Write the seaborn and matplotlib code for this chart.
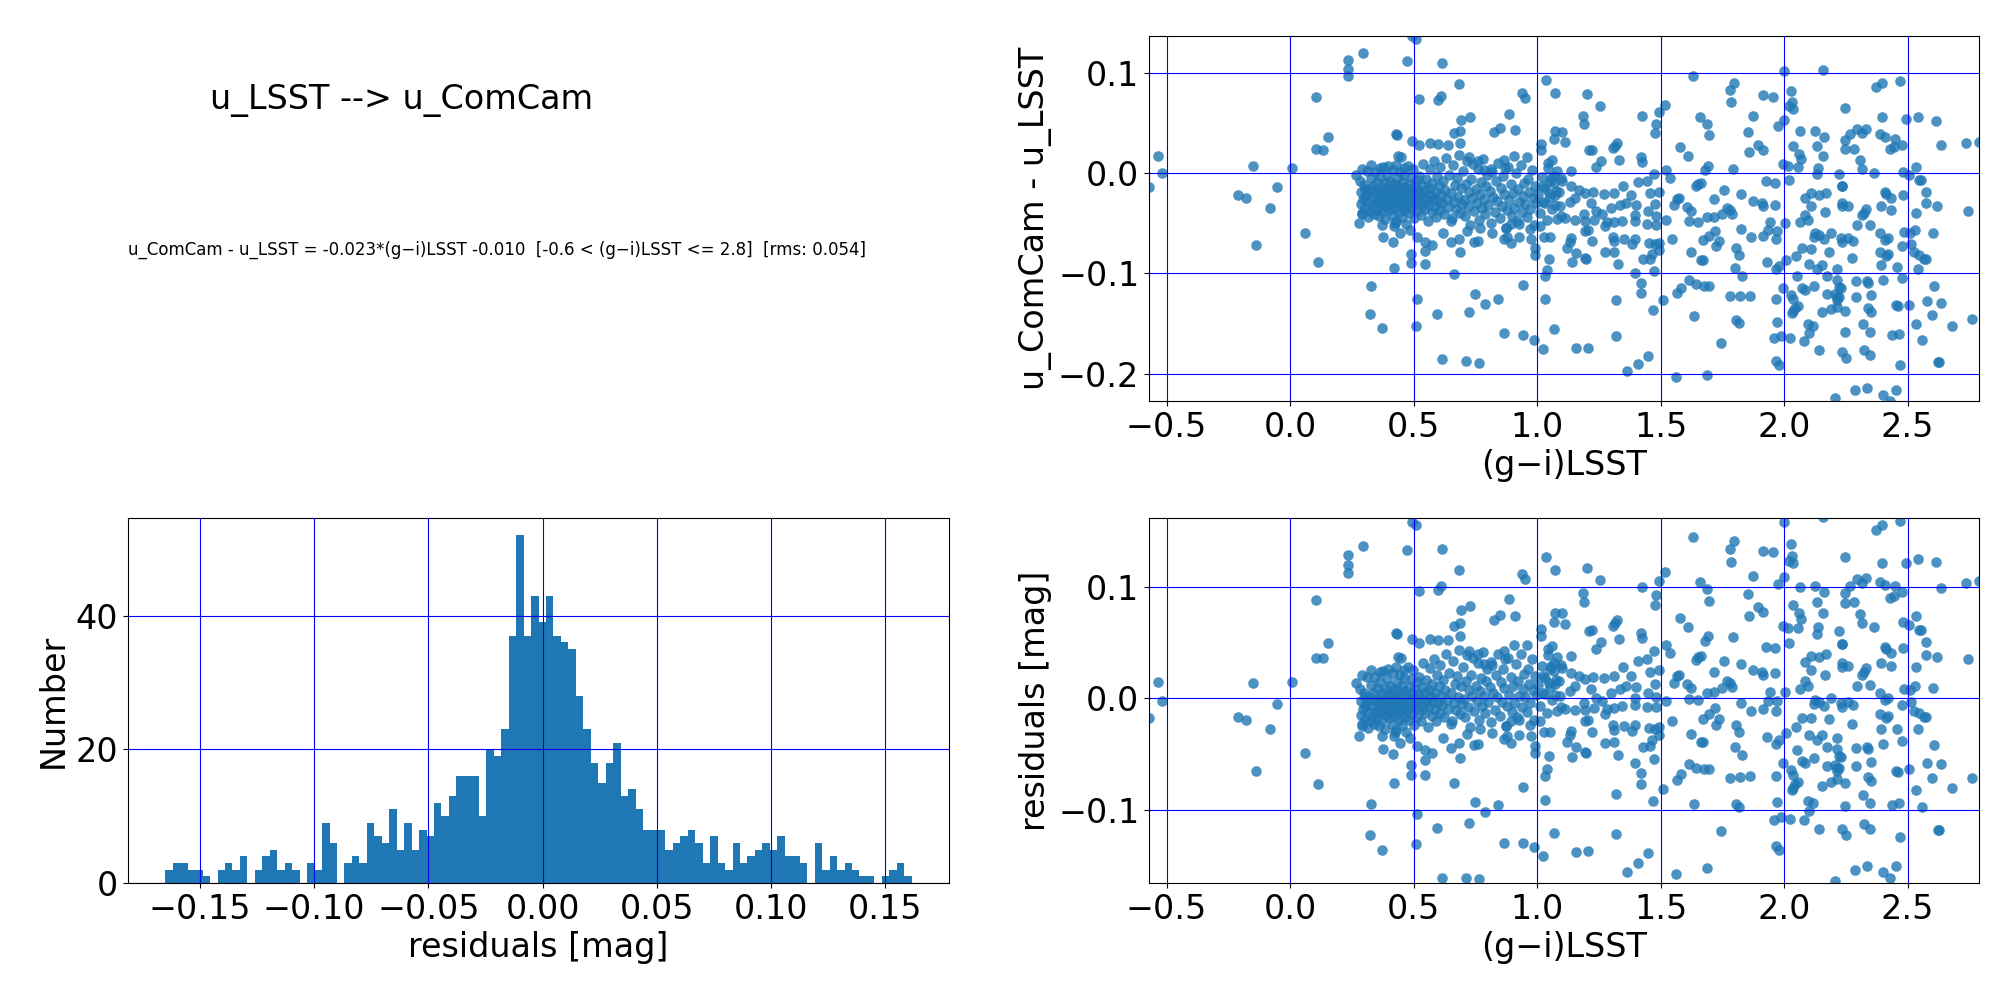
import numpy as np
import pandas as pd
import matplotlib
matplotlib.use("Agg")
import matplotlib.pyplot as plt
from matplotlib.ticker import MultipleLocator
import seaborn as sns

# ---------------- data ----------------
title_text = "u_LSST --> u_ComCam"
fit_text = ("u_ComCam - u_LSST = -0.023*(g\u2212i)LSST -0.010  "
            "[-0.6 < (g\u2212i)LSST <= 2.8]  [rms: 0.054]")
fit_slope = -0.023
fit_icpt = -0.010

# residual histogram: 100 bins between these limits
resid_range = [-0.1652, 0.1616]
resid_counts = [2, 3, 3, 2, 2, 1, 0, 2, 3, 2,
                4, 0, 2, 4, 5, 2, 3, 2, 0, 3,
                2, 9, 6, 0, 3, 4, 3, 9, 7, 6,
                11, 5, 9, 5, 8, 7, 12, 10, 13, 16,
                16, 16, 10, 20, 19, 23, 37, 52, 37, 43,
                39, 43, 37, 36, 35, 28, 23, 18, 15, 18,
                21, 13, 14, 11, 8, 8, 8, 5, 6, 7,
                8, 6, 3, 7, 3, 2, 6, 3, 4, 5,
                6, 5, 7, 4, 4, 3, 0, 6, 2, 4,
                2, 3, 2, 1, 1, 0, 1, 2, 3, 1]

# blue points, left part (g-i < 0.55)
left_gi = [-0.571, -0.533, -0.519, -0.148, -0.209, -0.179, -0.053, -0.082, -0.138, 0.008,
           0.061, 0.115, 0.107, 0.133, 0.152, 0.107, 0.234, 0.236, 0.236, 0.295,
           0.475, 0.492, 0.508, 0.520, 0.429, 0.431, 0.439, 0.451, 0.492, 0.520,
           0.266, 0.291, 0.329, 0.363, 0.398, 0.430, 0.463, 0.303, 0.302, 0.290,
           0.279, 0.373, 0.378, 0.417, 0.444, 0.422, 0.488, 0.488, 0.512, 0.422,
           0.329, 0.325, 0.373, 0.514, 0.508, 0.545, 0.545, 0.545, 0.486, 0.426]
left_du = [-0.014, 0.017, 0.000, 0.007, -0.022, -0.025, -0.014, -0.035, -0.072, 0.005,
           -0.060, -0.089, 0.024, 0.023, 0.036, 0.076, 0.113, 0.104, 0.097, 0.120,
           0.112, 0.1365, 0.134, 0.074, 0.039, 0.038, 0.017, 0.016, 0.032, 0.028,
           -0.002, 0.004, 0.008, 0.005, 0.007, 0.008, 0.005, -0.016, -0.024, -0.041,
           -0.050, -0.052, -0.064, -0.069, -0.060, -0.053, -0.081, -0.090, -0.064, -0.095,
           -0.112, -0.140, -0.154, -0.125, -0.152, -0.069, -0.078, -0.091, -0.057, -0.050]

# blue points, 0.55 < g-i < 1.0 (outside the dense core)
mid_gi = [0.616, 0.599, 0.612, 0.685, 0.694, 0.727, 0.665, 0.689, 0.689, 0.826,
          0.851, 0.888, 0.909, 0.937, 0.950, 0.565, 0.598, 0.638, 0.723, 0.759,
          0.868, 0.906, 0.961, 0.872, 0.814, 0.785,
          0.663, 0.748, 0.789, 0.842, 0.726, 0.594, 0.616, 0.711, 0.763, 0.868,
          0.941, 0.942, 0.986,
          0.690, 0.573, 0.653, 0.683, 0.744, 0.762, 0.818, 0.868, 0.879, 0.895,
          0.927, 0.975, 0.992, 0.993, 0.620, 0.650, 0.716, 0.767, 0.875, 0.893,
          0.928, 0.970]
mid_du = [0.110, 0.073, 0.077, 0.089, 0.053, 0.056, 0.040, 0.042, 0.030, 0.041,
          0.045, 0.059, 0.043, 0.080, 0.075, 0.030, 0.029, 0.028, 0.016, 0.012,
          0.013, 0.017, 0.016, 0.005, 0.004, 0.003,
          -0.101, -0.120, -0.130, -0.125, -0.138, -0.140, -0.185, -0.187, -0.189, -0.159,
          -0.111, -0.161, -0.166,
          -0.079, -0.072, -0.069, -0.066, -0.069, -0.068, -0.060, -0.066, -0.064, -0.070,
          -0.064, -0.066, -0.082, -0.075, -0.060, -0.048, -0.058, -0.055, -0.055, -0.051,
          -0.051, -0.056]

# blue points, 1.0 < g-i < 1.7
right_gi = [1.036, 1.073, 1.202, 1.255, 1.187, 1.188, 1.072, 1.102, 1.114, 1.069,
            1.017, 1.014, 1.045, 1.062, 1.136, 1.209, 1.223, 1.260, 1.238, 1.306,
            1.314, 1.322, 1.331, 1.424, 1.481, 1.477, 1.492, 1.517, 1.419, 1.426,
            1.474, 1.522, 1.537, 1.632, 1.661, 1.689, 1.698, 1.577, 1.610, 1.678,
            1.691, 1.645, 1.653, 1.567, 1.574, 1.555, 1.607, 1.625, 1.617, 1.653,
            1.686, 1.694, 1.672, 1.624, 1.664, 1.545, 1.522, 1.479, 1.493,
            1.494, 1.479, 1.455, 1.494, 1.466, 1.459, 1.430, 1.475, 1.395, 1.421,
            1.419, 1.508, 1.471, 1.566, 1.583, 1.613, 1.645, 1.675, 1.694, 1.635,
            1.450, 1.409, 1.364, 1.562, 1.689, 1.318, 1.318, 1.157, 1.207, 1.070,
            1.025, 1.032, 1.032, 1.041, 1.047, 1.140, 1.136, 1.134, 1.123, 1.157,
            1.196, 1.198, 1.223, 1.275, 1.312, 1.326, 1.306, 1.311, 1.350, 1.383,
            1.398, 1.028, 1.051, 1.010,
            1.070, 1.095, 1.136, 1.168, 1.196, 1.227, 1.269, 1.313, 1.347, 1.379,
            1.409, 1.444, 1.457, 1.072, 1.092, 1.134, 1.154, 1.191, 1.220, 1.237,
            1.262, 1.299, 1.337, 1.358, 1.399, 1.448, 1.481, 1.079, 1.113, 1.154,
            1.196, 1.230, 1.285, 1.313, 1.342, 1.398, 1.395, 1.444, 1.482, 1.196,
            1.207, 1.273, 1.022, 1.051, 1.058, 1.099, 1.034, 1.047, 1.077]
right_du = [0.093, 0.080, 0.079, 0.067, 0.057, 0.049, 0.042, 0.041, 0.031, 0.034,
            0.029, 0.023, 0.010, 0.013, 0.002, 0.023, 0.023, 0.012, 0.006, 0.025,
            0.027, 0.030, 0.013, 0.057, 0.049, 0.040, 0.061, 0.068, 0.016, 0.011,
            -0.001, 0.003, -0.005, 0.097, 0.056, 0.049, 0.038, 0.026, 0.017, 0.003,
            0.007, -0.013, -0.011, -0.026, -0.025, -0.032, -0.034, -0.038, -0.048, -0.049,
            -0.044, -0.063, -0.067, -0.079, -0.087, -0.066, -0.047, -0.031, -0.019,
            -0.070, -0.071, -0.070, -0.077, -0.081, -0.086, -0.086, -0.098, -0.100, -0.109,
            -0.119, -0.126, -0.136, -0.119, -0.114, -0.106, -0.110, -0.112, -0.112, -0.142,
            -0.182, -0.190, -0.197, -0.203, -0.201, -0.126, -0.162, -0.174, -0.174, -0.155,
            -0.175, -0.125, -0.103, -0.097, -0.086, -0.089, -0.065, -0.069, -0.075, -0.080,
            -0.085, -0.086, -0.068, -0.079, -0.079, -0.091, -0.064, -0.068, -0.066, -0.071,
            -0.066, -0.064, -0.064, -0.053,
            -0.003, -0.005, -0.013, -0.017, -0.020, -0.019, -0.021, -0.020, -0.013, -0.022,
            -0.009, -0.008, -0.020, -0.022, -0.033, -0.029, -0.025, -0.041, -0.030, -0.038,
            -0.041, -0.035, -0.032, -0.030, -0.032, -0.038, -0.043, -0.046, -0.045, -0.047,
            -0.048, -0.047, -0.049, -0.049, -0.048, -0.042, -0.048, -0.051, -0.052, -0.058,
            -0.057, -0.053, -0.013, -0.008, -0.005, -0.008, -0.030, -0.020, -0.018]

# blue points, g-i > 1.7
red_gi = [2.000, 2.156, 1.796, 1.780, 1.787, 1.913, 1.954, 2.029, 2.034, 2.018,
          2.038, 1.873, 1.852, 1.858, 1.895, 1.913, 1.975, 1.999, 2.066, 2.036,
          2.061, 2.070, 1.995, 2.015, 2.057, 2.020, 2.127, 2.160, 2.135, 2.157,
          2.139, 2.133, 2.246, 2.267, 2.297, 2.316, 2.332, 2.247, 2.246, 2.284,
          2.306, 2.316, 2.365, 2.224, 2.235, 2.372, 2.398, 2.471, 2.398, 2.495,
          2.542, 2.616, 2.387, 2.410, 2.449, 2.443, 2.428, 2.479, 2.634, 2.738,
          2.789, 2.533, 2.481, 2.504, 2.548, 2.555, 2.575, 2.617, 2.576, 2.533,
          2.746, 2.482, 2.407, 2.414, 2.432, 2.393, 2.434, 2.234, 2.234, 2.234,
          2.258, 2.322, 2.333, 2.315, 2.297, 2.348, 2.107, 2.083, 2.143, 2.169,
          2.109, 2.166, 2.084, 2.066, 2.098, 2.004, 1.925, 1.963, 1.795, 1.665,
          1.757, 1.827, 1.716, 1.874, 1.911, 1.913, 1.963, 1.770, 1.781, 1.791,
          1.747, 1.717, 1.941, 1.824, 1.865, 1.913, 1.936, 1.970, 1.966, 1.721,
          1.736, 1.725, 1.807, 1.819, 1.930, 1.803, 1.831, 1.671,
          2.127, 2.122, 2.141, 2.160, 2.109, 2.072, 2.049, 2.008, 1.981, 1.966,
          2.102, 2.134, 2.154, 2.216, 2.183, 2.191, 2.229, 2.258, 2.277, 2.234,
          2.273, 2.387, 2.410, 2.419, 2.387, 2.412, 2.422, 2.393, 2.458, 2.484,
          2.510, 2.530, 2.478, 2.515, 2.525, 2.548, 2.568, 2.575, 2.601, 2.544,
          2.053, 1.995, 2.072, 2.086, 2.123, 2.173, 2.216, 2.221, 2.231, 2.208,
          2.173, 2.216, 2.290, 2.335, 2.340, 2.400, 2.479, 2.352, 2.290, 2.339,
          2.352, 2.029, 2.038, 2.055, 2.045, 2.031, 2.036, 1.969, 1.971, 1.958,
          1.986, 2.022, 1.969, 1.981, 1.783, 1.822, 1.862, 1.805, 1.816, 1.746,
          2.154, 2.189, 2.213, 2.247, 2.223, 2.214, 2.098, 2.115, 2.102, 2.081,
          2.143, 2.246, 2.234, 2.251, 2.320, 2.348, 2.324, 2.346, 2.437, 2.464,
          2.451, 2.462, 2.505, 2.533, 2.560, 2.578, 2.634, 2.597, 2.605, 2.680,
          2.762, 2.469, 2.624, 2.628, 2.287, 2.335, 2.402, 2.455, 2.430, 2.206]
red_du = [0.102, 0.103, 0.090, 0.083, 0.071, 0.078, 0.076, 0.082, 0.071, 0.067,
          0.064, 0.057, 0.041, 0.021, 0.028, 0.023, 0.047, 0.053, 0.042, 0.027,
          0.019, 0.014, 0.009, 0.007, 0.006, -0.007, 0.042, 0.036, 0.027, 0.017,
          0.005, -0.001, 0.065, 0.039, 0.044, 0.040, 0.044, 0.033, 0.024, 0.024,
          0.013, 0.004, 0.000, -0.001, -0.013, 0.086, 0.090, 0.092, 0.056, 0.054,
          0.056, 0.052, 0.039, 0.036, 0.034, 0.026, 0.024, 0.028, 0.028, 0.030,
          0.031, 0.006, 0.001, -0.002, -0.007, -0.007, -0.019, -0.033, -0.030, -0.040,
          -0.038, -0.022, -0.019, -0.021, -0.025, -0.033, -0.037, -0.013, -0.030, -0.033,
          -0.033, -0.040, -0.036, -0.042, -0.052, -0.052, -0.020, -0.025, -0.022, -0.020,
          -0.033, -0.039, -0.042, -0.049, -0.047, -0.050, -0.008, -0.010, 0.004, -0.010,
          -0.017, -0.021, -0.026, -0.028, -0.030, -0.033, -0.032, -0.035, -0.037, -0.041,
          -0.041, -0.044, -0.049, -0.056, -0.064, -0.063, -0.057, -0.058, -0.066, -0.058,
          -0.068, -0.073, -0.075, -0.082, -0.089, -0.095, -0.103, -0.087,
          -0.060, -0.064, -0.062, -0.066, -0.076, -0.075, -0.083, -0.087, -0.093, -0.096,
          -0.091, -0.096, -0.092, -0.096, -0.079, -0.060, -0.065, -0.065, -0.068, -0.069,
          -0.085, -0.060, -0.067, -0.065, -0.079, -0.083, -0.081, -0.092, -0.094, -0.059,
          -0.060, -0.057, -0.073, -0.071, -0.079, -0.082, -0.086, -0.086, -0.060, -0.096,
          -0.103, -0.114, -0.114, -0.116, -0.112, -0.103, -0.106, -0.113, -0.114, -0.120,
          -0.120, -0.123, -0.107, -0.107, -0.109, -0.106, -0.105, -0.121, -0.123, -0.134,
          -0.138, -0.121, -0.125, -0.132, -0.134, -0.139, -0.137, -0.125, -0.148, -0.164,
          -0.162, -0.164, -0.187, -0.191, -0.122, -0.122, -0.122, -0.146, -0.149, -0.169,
          -0.138, -0.135, -0.133, -0.137, -0.123, -0.126, -0.150, -0.152, -0.159, -0.167,
          -0.176, -0.158, -0.178, -0.184, -0.150, -0.158, -0.176, -0.181, -0.161, -0.160,
          -0.131, -0.132, -0.131, -0.150, -0.166, -0.127, -0.129, -0.141, -0.112, -0.152,
          -0.145, -0.191, -0.188, -0.188, -0.216, -0.214, -0.221, -0.216, -0.227, -0.224]

# dense core of points, 0.28 < g-i < 1.1
core_gi = [0.282, 0.286, 0.289, 0.293, 0.297, 0.301, 0.304, 0.308, 0.311, 0.315, 0.318, 0.322,
           0.324, 0.327, 0.330, 0.333, 0.336, 0.339, 0.342, 0.345, 0.348, 0.351, 0.354, 0.357, 0.359,
           0.361, 0.363, 0.366, 0.368, 0.371, 0.373, 0.376, 0.378, 0.381, 0.383, 0.386, 0.388, 0.391,
           0.393, 0.396, 0.398,
           0.401, 0.403, 0.405, 0.408, 0.410, 0.412, 0.415, 0.417, 0.420, 0.422, 0.424, 0.427, 0.429,
           0.432, 0.434, 0.436, 0.439, 0.441,
           0.443, 0.445, 0.448, 0.450, 0.452, 0.455, 0.457, 0.459, 0.462, 0.464, 0.466, 0.469, 0.471,
           0.473, 0.476, 0.478,
           0.481, 0.483, 0.485, 0.488, 0.490, 0.492, 0.495, 0.497, 0.499, 0.502, 0.504, 0.507, 0.509,
           0.512, 0.514, 0.517,
           0.521, 0.524, 0.527, 0.530, 0.533, 0.536, 0.539, 0.542, 0.545, 0.548, 0.551, 0.554, 0.557,
           0.561, 0.564, 0.567, 0.570, 0.573, 0.576, 0.579, 0.582, 0.585, 0.588, 0.591, 0.594, 0.597,
           0.601, 0.605, 0.609, 0.613, 0.617, 0.621, 0.625, 0.629, 0.633, 0.637, 0.641, 0.645,
           0.652, 0.656, 0.660, 0.664, 0.668, 0.672, 0.676, 0.680, 0.684, 0.688, 0.692, 0.696,
           0.702, 0.706, 0.710, 0.714, 0.718, 0.722, 0.726, 0.730, 0.734, 0.738, 0.742, 0.746,
           0.752, 0.756, 0.760, 0.764, 0.768, 0.772, 0.776, 0.780, 0.784, 0.788, 0.792, 0.796,
           0.803, 0.808, 0.813, 0.818, 0.823, 0.828, 0.833, 0.838, 0.843, 0.848,
           0.853, 0.858, 0.863, 0.868, 0.873, 0.878, 0.883, 0.888, 0.893, 0.898,
           0.903, 0.908, 0.913, 0.918, 0.923, 0.928, 0.933, 0.938, 0.943, 0.948,
           0.953, 0.958, 0.963, 0.968, 0.973, 0.978, 0.983, 0.988, 0.993, 0.997,
           1.004, 1.011, 1.018, 1.025, 1.032, 1.039, 1.046, 1.053, 1.060, 1.067, 1.074, 1.081,
           1.088, 1.095]
core_du = [-0.008, -0.031, -0.019, -0.040, -0.026, -0.012, -0.035, -0.022, 0.002, -0.044, -0.029, -0.016,
           -0.038, -0.005, -0.024, -0.033, -0.013, -0.041, -0.020, 0.001, -0.030, -0.009, -0.036, -0.018, -0.027,
           -0.043, -0.004, -0.022, -0.031, -0.014, -0.038, -0.026, 0.006, -0.019, -0.046, -0.010, -0.034, -0.023,
           -0.002, -0.029, -0.016,
           -0.037, -0.008, -0.025, -0.032, -0.015, -0.042, -0.021, 0.003, -0.028, -0.011, -0.035, -0.019, -0.048,
           -0.005, -0.026, -0.031, -0.013, -0.039,
           -0.022, 0.001, -0.029, -0.017, -0.044, -0.009, -0.033, -0.024, -0.002, -0.037, -0.014, -0.027, -0.051,
           -0.019, 0.007, -0.031,
           -0.011, -0.040, -0.023, -0.004, -0.028, -0.016, -0.035, -0.021, 0.004, -0.045, -0.013, -0.030, -0.025,
           -0.007, -0.038, -0.018,
           -0.029, -0.003, -0.021, -0.042, -0.012, -0.033, 0.009, -0.024, -0.017, -0.036, -0.006, -0.027, -0.048,
           -0.015, -0.031, 0.004, -0.022, -0.039, -0.010, -0.026, 0.012, -0.034, -0.019, -0.044, -0.003, -0.028,
           -0.013, -0.037, 0.006, -0.022, -0.030, -0.008, -0.041, -0.017, 0.015, -0.026, -0.034, -0.002,
           -0.020, -0.045, 0.008, -0.029, -0.012, -0.036, -0.005, -0.024, 0.018, -0.040, -0.015, -0.031,
           0.002, -0.027, -0.043, -0.011, 0.012, -0.034, -0.019, -0.052, -0.006, -0.025, 0.009, -0.038,
           -0.016, -0.030, 0.004, -0.047, -0.021, -0.009, -0.035, 0.014, -0.026, -0.041, -0.013, -0.002,
           -0.032, -0.018, -0.050, 0.001, -0.024, -0.039, -0.008, -0.028, 0.010, -0.045,
           -0.015, -0.033, -0.003, -0.021, -0.055, -0.037, 0.006, -0.027, -0.011, -0.043,
           -0.020, -0.035, 0.000, -0.048, -0.016, -0.029, 0.008, -0.039, -0.023, -0.010,
           -0.031, -0.044, -0.006, -0.019, -0.036, 0.003, -0.025, -0.052, -0.013, -0.030,
           -0.021, -0.040, -0.004, -0.029, -0.015, -0.047, 0.005, -0.024, -0.036, -0.010, -0.032, 0.002,
           -0.019, -0.043]

# ---------------- assemble ----------------
df = pd.DataFrame({
    "gi": np.array(left_gi + mid_gi + right_gi + red_gi + core_gi),
    "du": np.array(left_du + mid_du + right_du + red_du + core_du),
})
df["resid"] = df["du"] - (fit_slope * df["gi"] + fit_icpt)

n_bins = len(resid_counts)
edges = np.linspace(resid_range[0], resid_range[1], n_bins + 1)
hist_df = pd.DataFrame({"resid": 0.5 * (edges[:-1] + edges[1:]),
                        "count": resid_counts})

# ---------------- figure ----------------
FS = 24
C0 = "#1f77b4"
MS = 58
fig = plt.figure(figsize=(20, 10), dpi=100)
ax_txt = fig.add_axes([0.064, 0.599, 0.4105, 0.365])
ax_tr = fig.add_axes([0.5745, 0.599, 0.415, 0.365])
ax_h = fig.add_axes([0.064, 0.117, 0.4105, 0.365])
ax_br = fig.add_axes([0.5745, 0.117, 0.415, 0.365])

ax_txt.axis("off")
ax_txt.text(0.1, 0.8, title_text, fontsize=FS, transform=ax_txt.transAxes)
ax_txt.text(0.0, 0.4, fit_text, fontsize=FS / 2, transform=ax_txt.transAxes)

# top right: colour term
sns.scatterplot(data=df, x="gi", y="du", ax=ax_tr, s=MS, color=C0, alpha=0.8,
                linewidth=0)
ax_tr.set_xlim(df["gi"].min(), df["gi"].max())
ax_tr.set_ylim(df["du"].min(), df["du"].max())
ax_tr.xaxis.set_major_locator(MultipleLocator(0.5))
ax_tr.yaxis.set_major_locator(MultipleLocator(0.1))
ax_tr.set_xlabel("(g\u2212i)LSST", fontsize=FS)
ax_tr.set_ylabel("u_ComCam - u_LSST", fontsize=FS)

# bottom left: residual histogram
sns.histplot(data=hist_df, x="resid", weights="count", bins=n_bins,
             binrange=(resid_range[0], resid_range[1]), ax=ax_h,
             color=C0, alpha=1.0, linewidth=0, edgecolor="none")
ax_h.xaxis.set_major_locator(MultipleLocator(0.05))
ax_h.yaxis.set_major_locator(MultipleLocator(20))
ax_h.set_xlabel("residuals [mag]", fontsize=FS)
ax_h.set_ylabel("Number", fontsize=FS)

# bottom right: residuals vs colour
sns.scatterplot(data=df, x="gi", y="resid", ax=ax_br, s=MS, color=C0, alpha=0.8,
                linewidth=0)
ax_br.set_xlim(df["gi"].min(), df["gi"].max())
ax_br.set_ylim(resid_range[0], resid_range[1])
ax_br.xaxis.set_major_locator(MultipleLocator(0.5))
ax_br.yaxis.set_major_locator(MultipleLocator(0.1))
ax_br.set_xlabel("(g\u2212i)LSST", fontsize=FS)
ax_br.set_ylabel("residuals [mag]", fontsize=FS)

for ax in (ax_tr, ax_h, ax_br):
    ax.grid(True, color="b", linewidth=0.8)
    ax.set_axisbelow(False)
    ax.tick_params(labelsize=FS)

fig.savefig("out.png", dpi=100)
